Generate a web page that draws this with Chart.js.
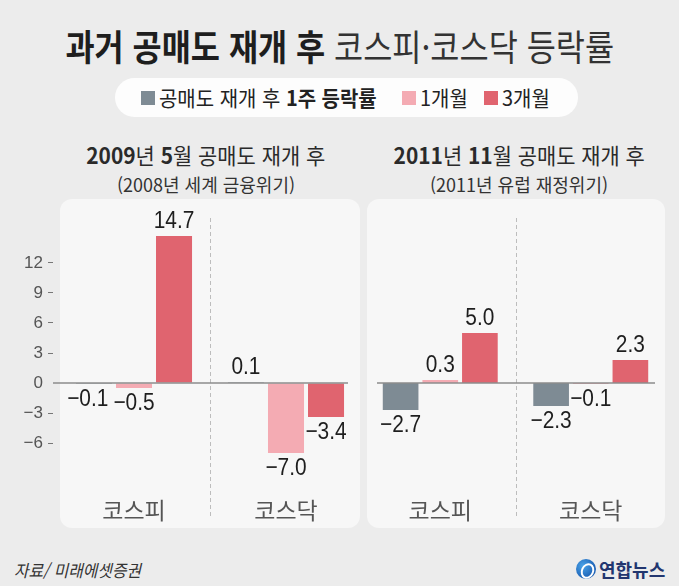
<!DOCTYPE html>
<html lang="ko">
<head>
<meta charset="utf-8">
<script src="https://cdn.jsdelivr.net/npm/chart.js@4.4.1/dist/chart.umd.min.js"></script>
<style>
  body { margin: 0; }
  #page { position: relative; width: 679px; height: 586px; background: #ececec; overflow: hidden;
          font-family: "Noto Sans CJK KR", sans-serif; color: #222; }
  .abs { position: absolute; }
  .center { text-align: center; white-space: nowrap; }
  .squeeze { display: inline-block; transform-origin: center; }
  .panel { background: #f7f7f7; border-radius: 12px; }
  .box { position: absolute; top: 199px; height: 329px; }
  #legend { left: 115px; top: 78px; width: 463px; height: 39px; background: #fdfdfd; border-radius: 20px;
            display: flex; align-items: center; justify-content: center; font-size: 21px; line-height: 1; }
  #legend .sw { display: inline-block; width: 14px; height: 14px; margin-right: 4px; flex: none; }
  #legend .item { display: flex; align-items: center; margin: 0 7px; white-space: nowrap; }
</style>
</head>
<body>
<div id="page">
  <div class="abs center" style="left:0; width:679px; top:21px; font-size:36px; line-height:48px;">
    <span class="squeeze" style="transform:scaleX(0.88)"><b style="color:#1e1e1e">과거 공매도 재개 후</b> <span style="color:#333">코스피·코스닥 등락률</span></span>
  </div>

  <div id="legend" class="abs"></div>

  <div class="abs center" style="left:56px; width:300px; top:140px; font-size:22px; line-height:28px; color:#2a2a2a;">
    <span class="squeeze" style="transform:scaleX(0.95)"><b>2009</b>년 <b>5</b>월 공매도 재개 후</span>
  </div>
  <div class="abs center" style="left:56px; width:300px; top:172px; font-size:18px; line-height:24px; color:#333;">
    <span class="squeeze">(2008년 세계 금융위기)</span>
  </div>
  <div class="abs center" style="left:369px; width:300px; top:140px; font-size:22px; line-height:28px; color:#2a2a2a;">
    <span class="squeeze" style="transform:scaleX(0.95)"><b>2011</b>년 <b>11</b>월 공매도 재개 후</span>
  </div>
  <div class="abs center" style="left:369px; width:300px; top:172px; font-size:18px; line-height:24px; color:#333;">
    <span class="squeeze">(2011년 유럽 재정위기)</span>
  </div>

  <div class="abs panel" style="left:60px; top:199px; width:300px; height:329px;"></div>
  <div class="abs panel" style="left:367px; top:199px; width:298px; height:329px;"></div>

  <div class="box" style="left:0; width:362px;"><canvas id="chart2009"></canvas></div>
  <div class="box" style="left:365px; width:301px;"><canvas id="chart2011"></canvas></div>

  <div class="abs" style="left:14px; top:557px; font-size:17px; line-height:26px; font-style:italic; color:#333;">
    <span class="squeeze" style="transform:scaleX(0.93);transform-origin:left">자료/ 미래에셋증권</span>
  </div>

  <div class="abs" style="left:576px; top:559px; width:20px; height:20px; border-radius:50%;
       background:radial-gradient(circle at 35% 35%, #4aa3e8, #1a5fb4 70%);"></div>
  <div class="abs" style="left:581px; top:563px; width:9px; height:12px; border:2px solid #fff; border-radius:50%; transform:rotate(25deg);"></div>
  <div class="abs" style="left:599px; top:556px; font-size:18px; line-height:26px; font-weight:bold; color:#22366f;">연합뉴스</div>
</div>

<script>
  /* data */
  const categories = ['코스피', '코스닥'];
  const seriesNames = ['공매도 재개 후 1주 등락률', '1개월', '3개월'];
  const seriesColors = ['#7e8b94', '#f4abb3', '#e0646f'];

  const week2009 = [-0.1, 0.1];
  const month2009 = [-0.5, -7.0];
  const quarter2009 = [14.7, -3.4];

  const week2011 = [-2.7, -2.3];
  const month2011 = [0.3, -0.1];
  const quarter2011 = [5.0, 2.3];

  const yTicks = [-6, -3, 0, 3, 6, 9, 12];
  const yMin = -8;
  const yMax = 16;

  /* legend */
  const legend = document.querySelector('#legend');
  const legendLabels = ['공매도 재개 후 <b>1주 등락률</b>', '1개월', '3개월'];
  legendLabels.forEach((html, i) => {
    const item = document.createElement('span');
    item.className = 'item';
    item.innerHTML = '<span class="sw" style="background:' + seriesColors[i] + '"></span>' +
      '<span style="display:inline-block;transform:scaleX(0.95);transform-origin:left">' + html + '</span>';
    legend.appendChild(item);
  });

  const fmt = v => (v < 0 ? '\u2212' + Math.abs(v).toFixed(1) : v.toFixed(1));
  const LABEL_SQUEEZE = 0.87;

  /* zero line, separator, value labels */
  const decor = {
    id: 'decor',
    afterDatasetsDraw(chart, args, opts) {
      const { ctx, chartArea, scales } = chart;
      const x = scales.x, y = scales.y;
      const zero = y.getPixelForValue(0);
      ctx.save();

      // dashed separator between the two markets
      const sepX = Math.round((x.getPixelForValue(0) + x.getPixelForValue(1)) / 2) + 0.5;
      ctx.strokeStyle = '#bdbdbd';
      ctx.lineWidth = 1;
      ctx.setLineDash([4, 3]);
      ctx.beginPath();
      ctx.moveTo(sepX, chartArea.top - 5);
      ctx.lineTo(sepX, chartArea.bottom + 56);
      ctx.stroke();
      ctx.setLineDash([]);

      // zero line
      ctx.strokeStyle = '#8c8c8c';
      ctx.lineWidth = 1.6;
      ctx.beginPath();
      ctx.moveTo(chartArea.left + opts.zeroFrom, zero);
      ctx.lineTo(chartArea.right - opts.zeroTo, zero);
      ctx.stroke();

      // value labels, nudged left when two neighbours would collide
      ctx.font = "24px 'Liberation Sans', Arial, sans-serif";
      ctx.fillStyle = '#1e1e1e';
      ctx.textBaseline = 'middle';
      ctx.textAlign = 'center';
      categories.forEach((c, i) => {
        const items = chart.data.datasets.map((ds, di) => {
          const bar = chart.getDatasetMeta(di).data[i];
          const v = ds.data[i];
          const text = fmt(v);
          const w = ctx.measureText(text).width * LABEL_SQUEEZE;
          return { text, x: bar.x, y: v >= 0 ? bar.y - 15 : bar.y + 15, w };
        });
        for (let k = items.length - 2; k >= 0; k--) {
          const a = items[k], b = items[k + 1];
          if (Math.abs(a.y - b.y) < 18) {
            const overlap = (a.x + a.w / 2) - (b.x - b.w / 2) + 5;
            if (overlap > 0) a.x -= overlap;
          }
        }
        items.forEach(it => {
          ctx.save();
          ctx.translate(it.x, it.y);
          ctx.scale(LABEL_SQUEEZE, 1);
          ctx.fillText(it.text, 0, 0);
          ctx.restore();
        });
      });
      ctx.restore();
    }
  };

  function makeChart(el, sets, showAxis, zeroFrom, zeroTo) {
    return new Chart(el, {
      type: 'bar',
      data: {
        labels: categories,
        datasets: sets.map((d, i) => ({
          label: seriesNames[i],
          data: d,
          backgroundColor: seriesColors[i],
          categoryPercentage: 0.79,
          barPercentage: 0.9
        }))
      },
      options: {
        responsive: true,
        maintainAspectRatio: false,
        animation: false,
        layout: { padding: { top: 24, left: 0, right: 0, bottom: 0 } },
        plugins: {
          legend: { display: false },
          tooltip: { enabled: false },
          decor: { zeroFrom: zeroFrom, zeroTo: zeroTo }
        },
        scales: {
          x: {
            grid: { display: false, drawTicks: false },
            border: { display: false },
            ticks: {
              color: '#555',
              padding: 33,
              font: { family: "'Noto Sans CJK KR', sans-serif", size: 23 }
            },
            afterFit: s => { s.height = 65; }
          },
          y: {
            display: showAxis,
            min: yMin,
            max: yMax,
            afterBuildTicks: s => { s.ticks = yTicks.map(v => ({ value: v })); },
            afterFit: s => { s.width = showAxis ? 58 : 0; },
            border: { display: false },
            grid: {
              drawOnChartArea: false,
              drawTicks: true,
              tickLength: 10,
              tickWidth: 1,
              tickColor: c => (c.tick && c.tick.value === 0 ? 'rgba(0,0,0,0)' : '#777'),
              tickBorderDash: [5, 20]
            },
            ticks: {
              color: '#555',
              padding: 5,
              font: { family: "'Liberation Sans', Arial, sans-serif", size: 17 },
              callback: v => (v < 0 ? '\u2212' + Math.abs(v) : String(v))
            }
          }
        }
      },
      plugins: [decor]
    });
  }

  makeChart(document.querySelector('#chart2009'), [week2009, month2009, quarter2009], true, -5, 14);
  makeChart(document.querySelector('#chart2011'), [week2011, month2011, quarter2011], false, 12, 11);
</script>
</body>
</html>
